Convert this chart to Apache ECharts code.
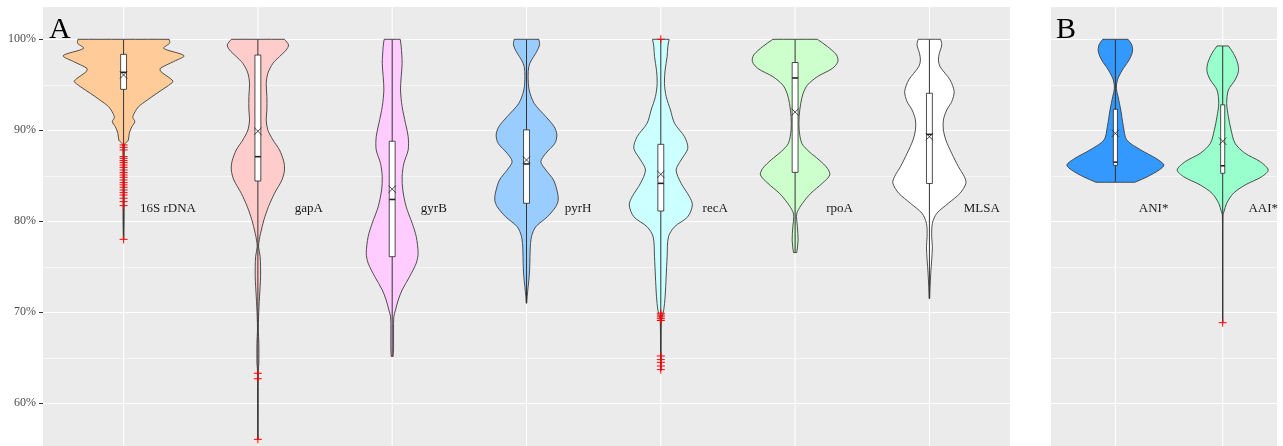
<!DOCTYPE html>
<html><head><meta charset="utf-8">
<script src="https://cdn.jsdelivr.net/npm/echarts@6/dist/echarts.min.js"></script>
<style>html,body{margin:0;padding:0;background:#fff}#c{width:1283px;height:446px}</style>
</head><body><div id="c"></div>
<script>
// ---------- DATA ----------
const categoriesA = ['16S rDNA', 'gapA', 'gyrB', 'pyrH', 'recA', 'rpoA', 'MLSA'];
const categoriesB = ['ANI*', 'AAI*'];
const yTickLabels = ['60%', '70%', '80%', '90%', '100%'];

// violin outlines: [identity %, half-width in category units], top to bottom
const profile16S = [[100,0.340],[99.56,0.342],[99.01,0.298],[98.2,0.45],[97.55,0.372],[96.8,0.273],[96.45,0.278],[95.7,0.347],[95.35,0.367],[94.8,0.322],[94.07,0.248],[93.3,0.174],[92.6,0.112],[91.87,0.079],[91.4,0.069],[90.95,0.084],[90.4,0.062],[89.67,0.042],[88.9,0.035],[88.57,0.012],[88.2,0.006],[84,0.005],[80,0.004],[78.02,0.002]];
const profileGapA = [[100,0.198],[99.38,0.228],[98.83,0.211],[98.1,0.161],[97.36,0.112],[96.26,0.074],[95.16,0.062],[93.7,0.067],[92.23,0.067],[91.14,0.062],[90.04,0.074],[88.94,0.112],[87.84,0.161],[86.56,0.193],[85.64,0.198],[84.54,0.179],[83.08,0.124],[81.61,0.079],[80.15,0.045],[78.68,0.020],[77.95,0.010],[77.2,0.005],[76.1,0.017],[73.9,0.020],[71.7,0.012],[69.5,0.005],[68.05,0.003],[66.6,0.007],[64.4,0.007],[63.66,0.003],[60,0.002],[56.04,0.001]];
const profileGyrB = [[100,0.060],[99.2,0.067],[97.36,0.074],[95.9,0.067],[94.43,0.062],[92.6,0.074],[90.77,0.099],[89.3,0.119],[87.84,0.119],[86.37,0.087],[84.9,0.074],[83.44,0.079],[81.61,0.104],[79.78,0.149],[78.32,0.179],[76.48,0.193],[75.4,0.179],[73.9,0.129],[72.45,0.074],[71.35,0.045],[70.26,0.025],[69.5,0.012],[68.05,0.010],[65.85,0.010],[65.15,0.007]];
const profilePyrH = [[100,0.092],[99.38,0.097],[98.46,0.069],[97.73,0.037],[97.0,0.017],[95.9,0.012],[94.43,0.020],[92.97,0.057],[91.5,0.144],[90.4,0.206],[89.49,0.226],[88.57,0.211],[87.47,0.144],[86.56,0.107],[85.64,0.144],[84.54,0.201],[83.08,0.232],[82.3,0.236],[81.6,0.218],[80.5,0.156],[79.4,0.069],[78.3,0.037],[76.85,0.027],[75.4,0.025],[73.9,0.020],[72.8,0.012],[71.7,0.005],[71.0,0.002]];
const profileRecA = [[100,0.062],[99.2,0.052],[98.1,0.047],[96.6,0.032],[95.16,0.027],[93.7,0.040],[92.23,0.072],[90.77,0.102],[89.3,0.176],[88.02,0.201],[86.74,0.151],[85.64,0.114],[84.18,0.151],[82.71,0.213],[81.8,0.235],[80.5,0.201],[79.4,0.102],[78.3,0.057],[76.1,0.047],[73.9,0.040],[71.7,0.032],[70.26,0.022],[69.5,0.010],[69.0,0.004],[66,0.002],[63.6,0.002]];
const profileRpoA = [[100,0.166],[99.2,0.241],[98.28,0.308],[97.55,0.318],[96.8,0.278],[95.9,0.166],[94.98,0.092],[94.07,0.060],[92.97,0.042],[91.5,0.030],[90.04,0.030],[88.57,0.050],[87.66,0.104],[86.74,0.179],[85.82,0.241],[85.09,0.258],[84.18,0.203],[83.08,0.117],[81.98,0.055],[81.06,0.017],[80.5,0.010],[79.4,0.017],[77.95,0.022],[76.85,0.015],[76.56,0.012]];
const profileMLSA = [[100,0.084],[99.38,0.092],[98.46,0.074],[97.73,0.067],[97.0,0.079],[95.53,0.154],[94.25,0.184],[93.15,0.166],[92.23,0.129],[91.14,0.104],[90.04,0.104],[88.94,0.122],[87.47,0.166],[86.0,0.216],[84.9,0.260],[84.18,0.272],[83.08,0.228],[81.98,0.141],[80.88,0.055],[79.78,0.022],[78.32,0.017],[77.2,0.022],[75.75,0.017],[74.3,0.010],[72.8,0.005],[71.5,0.002]];
const profileANI = [[100,0.118],[99.38,0.153],[98.64,0.159],[97.73,0.128],[96.63,0.065],[95.53,0.019],[94.62,0.009],[93.7,0.025],[92.23,0.050],[90.4,0.075],[88.94,0.106],[87.84,0.237],[86.92,0.377],[86.19,0.452],[85.64,0.408],[84.9,0.299],[84.29,0.181]];
const profileAAI = [[99.27,0.053],[98.46,0.100],[97.36,0.140],[96.45,0.146],[95.53,0.115],[94.43,0.053],[92.97,0.037],[91.5,0.053],[90.04,0.078],[88.57,0.115],[87.47,0.209],[86.56,0.349],[85.64,0.424],[84.9,0.364],[83.99,0.209],[83.08,0.100],[81.98,0.037],[81.06,0.012],[80.7,0.003],[75,0.001],[68.86,0.001]];

// box statistics
const q1A     = [94.5, 84.43, 76.11, 81.98, 81.13, 85.38, 84.15];
const medianA = [96.37, 87.1, 82.4, 86.3, 84.17, 95.75, 89.55];
const q3A     = [98.35, 98.27, 88.8, 90.05, 88.46, 97.45, 94.07];
const meanA   = [96.08, 89.9, 83.53, 86.74, 85.16, 92.0, 89.3];
const q1B     = [86.15, 85.27];
const medianB = [86.5, 86.1];
const q3B     = [92.31, 92.8];
const meanB   = [89.67, 88.8];

// outliers
const outliers16S = [88.39,88.13,87.84,87.11,86.92,86.67,86.45,86.19,85.93,85.64,85.35,85.09,84.84,84.54,84.25,84.0,83.74,83.44,83.15,82.89,82.53,82.16,81.72,78.02];
const outliersGapA = [63.3, 62.7, 56.04];
const outliersGyrB = [];
const outliersPyrH = [];
const outliersRecA = [100, 69.9, 69.7, 69.5, 69.3, 69.1, 65.2, 64.8, 64.5, 64.1, 63.7];
const outliersRpoA = [];
const outliersMLSA = [];
const outliersANI = [];
const outliersAAI = [68.86];

// ---------- STYLE / LAYOUT ----------
const colorsA = ['#FFCC99', '#FFCCCC', '#FFCCFF', '#99CCFF', '#CCFFFF', '#CCFFCC', '#FFFFFF'];
const colorsB = ['#3399FF', '#99FFCC'];
const labelOffsetA = [0.122, 0.275, 0.213, 0.284, 0.311, 0.231, 0.255];
const labelOffsetB = [0.218, 0.24];
const labelLevel = 81.43;
const panelTop = 103.55;
const serif = '"Liberation Serif", "DejaVu Serif", serif';

const panelA = {
  profiles: [profile16S, profileGapA, profileGyrB, profilePyrH, profileRecA, profileRpoA, profileMLSA],
  outliers: [outliers16S, outliersGapA, outliersGyrB, outliersPyrH, outliersRecA, outliersRpoA, outliersMLSA],
  q1: q1A, med: medianA, q3: q3A, mean: meanA, colors: colorsA, cats: categoriesA,
  labelOffset: labelOffsetA, boxHalf: 0.022
};
const panelB = {
  profiles: [profileANI, profileAAI],
  outliers: [outliersANI, outliersAAI],
  q1: q1B, med: medianB, q3: q3B, mean: meanB, colors: colorsB, cats: categoriesB,
  labelOffset: labelOffsetB, boxHalf: 0.019
};

function vGridSeries(ax, nCats) {
  return {
    type: 'custom', xAxisIndex: ax, yAxisIndex: ax, z: 1, silent: true,
    data: Array.from({length: nCats}, (_, i) => [i]),
    renderItem(params, api) {
      const i = api.value(0);
      const a = api.coord([i, panelTop]), b = api.coord([i, 50]);
      return {type: 'line', shape: {x1: a[0], y1: a[1], x2: b[0], y2: b[1]},
        style: {stroke: '#FFFFFF', lineWidth: 1.1}};
    }
  };
}

function violinSeries(ax, P) {
  return {
    type: 'custom', xAxisIndex: ax, yAxisIndex: ax, z: 3, silent: true,
    data: P.profiles.map((p, i) => [i]),
    renderItem(params, api) {
      const i = api.value(0);
      const prof = P.profiles[i];
      const left = prof.map(([v, h]) => api.coord([i - h, v]));
      const right = prof.slice().reverse().map(([v, h]) => api.coord([i + h, v]));
      // repeat end points so the flat trimmed ends keep sharp corners when smoothed
      const pts = [left[0]].concat(left, [left[left.length - 1], right[0]], right, [right[right.length - 1]]);
      const vals = prof.map(p => p[0]).concat(P.outliers[i]);
      const vmax = Math.max(...vals), vmin = Math.min(...vals);
      const top = api.coord([i, vmax]), bot = api.coord([i, vmin]);
      const bTL = api.coord([i - P.boxHalf, P.q3[i]]);
      const bBR = api.coord([i + P.boxHalf, P.q1[i]]);
      const mL = api.coord([i - P.boxHalf, P.med[i]]);
      const mR = api.coord([i + P.boxHalf, P.med[i]]);
      const mc = api.coord([i, P.mean[i]]);
      const s = 3.6;
      const children = [
        {type: 'polygon', shape: {points: pts, smooth: 0.3},
          style: {fill: P.colors[i], stroke: '#3C3C3C', lineWidth: 0.9}},
        {type: 'line', shape: {x1: top[0], y1: top[1], x2: bot[0], y2: bot[1]},
          style: {stroke: '#333333', lineWidth: 1}},
        {type: 'rect', shape: {x: bTL[0], y: bTL[1], width: bBR[0] - bTL[0], height: bBR[1] - bTL[1]},
          style: {fill: '#FFFFFF', stroke: '#222222', lineWidth: 0.8}},
        {type: 'line', shape: {x1: mL[0], y1: mL[1], x2: mR[0], y2: mR[1]},
          style: {stroke: '#222222', lineWidth: 1.6}},
        {type: 'line', shape: {x1: mc[0] - s, y1: mc[1] - s, x2: mc[0] + s, y2: mc[1] + s},
          style: {stroke: '#222222', lineWidth: 0.8}},
        {type: 'line', shape: {x1: mc[0] - s, y1: mc[1] + s, x2: mc[0] + s, y2: mc[1] - s},
          style: {stroke: '#222222', lineWidth: 0.8}}
      ];
      P.outliers[i].forEach(v => {
        const c = api.coord([i, v]);
        children.push({type: 'line', shape: {x1: c[0] - 4, y1: c[1], x2: c[0] + 4, y2: c[1]}, style: {stroke: '#FF0000', lineWidth: 1}});
        children.push({type: 'line', shape: {x1: c[0], y1: c[1] - 4, x2: c[0], y2: c[1] + 4}, style: {stroke: '#FF0000', lineWidth: 1}});
      });
      return {type: 'group', children};
    }
  };
}

function labelSeries(ax, P) {
  return {
    type: 'custom', xAxisIndex: ax, yAxisIndex: ax, z: 4, silent: true,
    data: P.cats.map((c, i) => [i]),
    renderItem(params, api) {
      const i = api.value(0);
      const p = api.coord([i + P.labelOffset[i], labelLevel]);
      return {type: 'text', x: p[0], y: p[1],
        style: {text: P.cats[i], font: '13px ' + serif, fill: '#1A1A1A', align: 'left', verticalAlign: 'middle'}};
    }
  };
}

// y scale: 10 % per 91 px, 100 % at y = 39.3; the grid runs past the visible panel
const yCommon = {
  type: 'value', min: 50, max: 110, interval: 10,
  axisLine: {show: false, onZero: false},
  splitLine: {show: true, lineStyle: {color: '#FFFFFF', width: 1.1}},
  minorTick: {show: false, splitNumber: 2},
  minorSplitLine: {show: true, lineStyle: {color: '#FFFFFF', width: 0.6}}
};

const chart = echarts.init(document.getElementById('c'), null, {renderer: 'canvas'});
chart.setOption({
  animation: false,
  backgroundColor: '#FFFFFF',
  grid: [
    {left: 43, top: -51.7, width: 967, height: 546, show: false, outerBoundsMode: 'none', containLabel: false},
    {left: 1051, top: -51.7, width: 226, height: 546, show: false, outerBoundsMode: 'none', containLabel: false}
  ],
  xAxis: [
    {type: 'value', gridIndex: 0, min: -0.6, max: 6.6, show: false, axisLine: {onZero: false}},
    {type: 'value', gridIndex: 1, min: -0.6, max: 1.506, show: false, axisLine: {onZero: false}}
  ],
  yAxis: [
    Object.assign({}, yCommon, {gridIndex: 0,
      axisTick: {show: true, length: 4, lineStyle: {color: '#333333'}},
      axisLabel: {show: true, margin: 7, formatter: v => (yTickLabels.indexOf(v + '%') >= 0 ? v + '%' : ''),
        color: '#4D4D4D', fontSize: 12, fontFamily: serif}}),
    Object.assign({}, yCommon, {gridIndex: 1, axisTick: {show: false}, axisLabel: {show: false}})
  ],
  graphic: [
    {type: 'rect', z: -10, silent: true, shape: {x: 43, y: 7, width: 967, height: 439}, style: {fill: '#EBEBEB'}},
    {type: 'rect', z: -10, silent: true, shape: {x: 1051, y: 7, width: 226, height: 439}, style: {fill: '#EBEBEB'}},
    {type: 'rect', z: 0, silent: true, shape: {x: 0, y: 0, width: 1283, height: 7}, style: {fill: '#FFFFFF'}},
    {type: 'text', left: 49, top: 15, z: 10, style: {text: 'A', font: '30px ' + serif, fill: '#000000'}},
    {type: 'text', left: 1056, top: 15, z: 10, style: {text: 'B', font: '30px ' + serif, fill: '#000000'}}
  ],
  series: [
    vGridSeries(0, categoriesA.length), vGridSeries(1, categoriesB.length),
    violinSeries(0, panelA), violinSeries(1, panelB),
    labelSeries(0, panelA), labelSeries(1, panelB)
  ]
});
</script>
</body></html>
